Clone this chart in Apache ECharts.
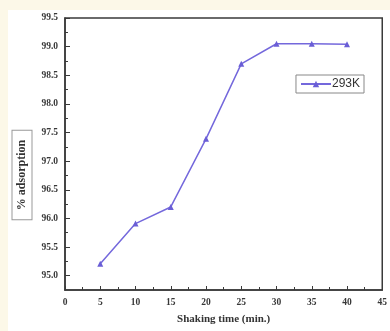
<!DOCTYPE html>
<html><head><meta charset="utf-8">
<script src="https://cdn.jsdelivr.net/npm/echarts@6/dist/echarts.min.js"></script>
<style>html,body{margin:0;padding:0;background:#fcf8e8;}#c{width:390px;height:331px;}</style>
</head><body><div id="c"></div>
<script>
const shakingTime = [5, 10, 15, 20, 25, 30, 35, 40];
const adsorption293K = [95.21, 95.91, 96.20, 97.39, 98.70, 99.05, 99.05, 99.04];
const yMajorTicks = [95.0, 95.5, 96.0, 96.5, 97.0, 97.5, 98.0, 98.5, 99.0, 99.5];
const yMinorTicks = [95.25, 95.75, 96.25, 96.75, 97.25, 97.75, 98.25, 98.75, 99.25];
const seriesName = '293K';

const chart = echarts.init(document.getElementById('c'), null, {renderer: 'canvas'});
const serif = '"Liberation Serif", "DejaVu Serif", serif';
const axisCol = '#3a3a3a';
chart.setOption({
  backgroundColor: '#fcf8e8',
  animation: false,
  graphic: [
    {type: 'rect', z: -10, shape: {x: 8, y: 10, width: 382, height: 321}, style: {fill: '#ffffff'}},
    {type: 'text', x: 22, y: 175, rotation: Math.PI / 2, z: 10,
     style: {text: '% adsorption', font: 'bold 12px ' + serif, fill: '#333', align: 'center', verticalAlign: 'middle',
       borderColor: '#999', borderWidth: 1, padding: [4, 9, 3, 9], backgroundColor: '#fff'}}
  ],
  grid: {left: 65, right: 7, top: 18, bottom: 41, show: true, borderColor: axisCol, borderWidth: 1.5, backgroundColor: 'transparent'},
  legend: {
    data: [seriesName], right: 26, top: 75, orient: 'vertical',
    borderColor: '#888', borderWidth: 1, padding: [3, 4, 3, 4],
    itemWidth: 30, itemHeight: 8, itemGap: 0,
    textStyle: {fontFamily: '"Liberation Sans", Arial, sans-serif', fontSize: 12, color: '#333', padding: [0, 0, 0, -4]},
    backgroundColor: '#fff'
  },
  xAxis: {
    type: 'value', min: 0, max: 45, interval: 5,
    name: 'Shaking time (min.)', nameLocation: 'middle', nameGap: 24,
    nameTextStyle: {fontFamily: serif, fontWeight: 'bold', fontSize: 11, color: '#333'},
    axisLine: {show: true, lineStyle: {color: axisCol, width: 1.5}},
    axisTick: {show: true, inside: true, length: 4, lineStyle: {color: axisCol}},
    minorTick: {show: true, splitNumber: 2, length: 3, lineStyle: {color: axisCol}},
    axisLabel: {fontFamily: serif, fontWeight: 'bold', fontSize: 9.5, color: '#383838', margin: 8},
    splitLine: {show: false}
  },
  yAxis: [{
    type: 'value', min: 94.75, max: 99.5,
    axisLine: {show: true, lineStyle: {color: axisCol, width: 1.5}},
    axisTick: {show: true, inside: true, length: 5, customValues: yMajorTicks, lineStyle: {color: axisCol}},
    axisLabel: {fontFamily: serif, fontWeight: 'bold', fontSize: 9.5, color: '#383838', margin: 7,
      customValues: yMajorTicks, formatter: v => v.toFixed(1)},
    splitLine: {show: false}
  }, {
    type: 'value', min: 94.75, max: 99.5, position: 'left', offset: 0,
    axisLine: {show: false},
    axisTick: {show: true, inside: true, length: 3, customValues: yMinorTicks, lineStyle: {color: axisCol}},
    axisLabel: {show: false},
    splitLine: {show: false}
  }],
  series: [{
    name: seriesName, type: 'line',
    data: shakingTime.map((t, i) => [t, adsorption293K[i]]),
    symbol: 'triangle', symbolSize: 6,
    lineStyle: {color: '#7468dc', width: 1.5},
    itemStyle: {color: '#6a5ed6'}
  }]
});
</script></body></html>
